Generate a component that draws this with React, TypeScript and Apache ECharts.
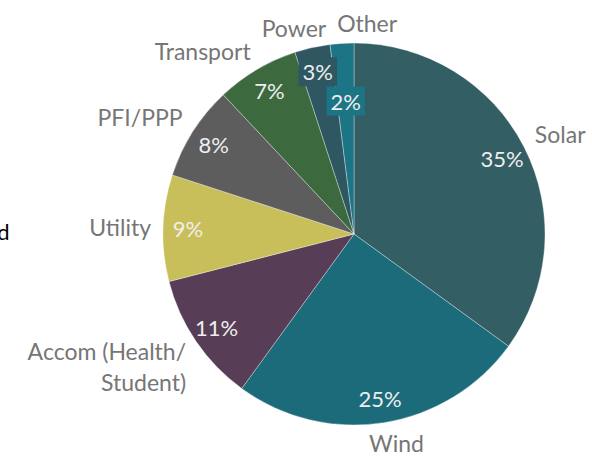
import React, { useEffect, useRef } from "react";
import * as echarts from "echarts";

const categories = [
  "Solar",
  "Wind",
  "Accom (Health/\nStudent)",
  "Utility",
  "PFI/PPP",
  "Transport",
  "Power",
  "Other",
];
const shares = [35, 25, 11, 9, 8, 7, 3, 2];
const sliceColors = [
  "#335e64",
  "#1b6b7b",
  "#573e56",
  "#c8bf5a",
  "#5d5d5d",
  "#3c6a3e",
  "#2e5761",
  "#1c7585",
];
const clippedText = "d";

const CX = 354;
const CY = 234;
const R = 191;
const FONT = "Lato, 'Open Sans', sans-serif";

function midAngles(values: number[]) {
  const total = values.reduce((a, b) => a + b, 0);
  let acc = 0;
  return values.map((v) => {
    const a = ((acc + v / 2) / total) * Math.PI * 2;
    acc += v;
    return a;
  });
}

const clamp = (v: number) => Math.max(-1, Math.min(1, v));

export default function App() {
  const ref = useRef<HTMLDivElement>(null);

  useEffect(() => {
    if (!ref.current) return;
    const chart = echarts.init(ref.current, undefined, { renderer: "svg" });
    const angles = midAngles(shares);
    const placed: Record<number, { x: number; y: number; w: number; h: number }> = {};
    const placedNames: Record<number, { x: number; y: number; w: number; h: number }> = {};

    const pctLayout = (p: any) => {
      const a = angles[p.dataIndex];
      const s = Math.sin(a);
      const c = Math.cos(a);
      const w = p.labelRect.width;
      const h = p.labelRect.height;
      const prev = placed[p.dataIndex - 1];
      let d = R * 0.87;
      let x = CX + d * s;
      let y = CY - d * c;
      for (let i = 0; i < 120; i++) {
        x = CX + d * s;
        y = CY - d * c;
        if (
          !prev ||
          !(Math.abs(x - prev.x) < (w + prev.w) / 2 && Math.abs(y - prev.y) < (h + prev.h) / 2)
        )
          break;
        d -= 1;
      }
      placed[p.dataIndex] = { x, y, w, h };
      return { x, y, align: "center", verticalAlign: "middle" };
    };

    const nameLayout = (p: any) => {
      const a = angles[p.dataIndex];
      const s = Math.sin(a);
      const c = Math.cos(a);
      const w = p.labelRect.width;
      const h = p.labelRect.height;
      const D = R + 12;
      let cx = CX + D * s + (w / 2) * clamp(2.5 * s);
      const cy = CY - D * c - (h / 2) * 0.6 * clamp(3 * c);
      const prev = placedNames[p.dataIndex - 1];
      if (
        prev &&
        Math.abs(cx - prev.x) < (w + prev.w) / 2 + 11 &&
        Math.abs(cy - prev.y) < (h + prev.h) / 2
      ) {
        cx = prev.x + (w + prev.w) / 2 + 11;
      }
      placedNames[p.dataIndex] = { x: cx, y: cy, w, h };
      let align = "center";
      let x = cx;
      if (s < -0.35) {
        align = "right";
        x = cx + w / 2;
      } else if (s > 0.35) {
        align = "left";
        x = cx - w / 2;
      }
      return { x, y: cy, align, verticalAlign: "middle" };
    };

    const mainData = shares.map((v, i) => ({
      name: categories[i],
      value: v,
      itemStyle: { color: sliceColors[i] },
      label:
        v < 5
          ? { backgroundColor: sliceColors[i], padding: [4, 4, 3, 4] }
          : undefined,
    }));
    const nameData = shares.map((v, i) => ({
      name: categories[i],
      value: v,
      label: categories[i].includes("\n") ? { lineHeight: 31 } : undefined,
    }));

    chart.setOption({
      animation: false,
      backgroundColor: "#ffffff",
      graphic: [
        {
          type: "text",
          x: 9.5,
          y: 231,
          style: {
            text: clippedText,
            fill: "#000000",
            font: `22px ${FONT}`,
            textAlign: "right",
            textVerticalAlign: "middle",
          },
        },
      ],
      series: [
        {
          type: "pie",
          center: [CX, CY],
          radius: [0, R],
          startAngle: 90,
          clockwise: true,
          silent: true,
          data: mainData,
          itemStyle: { borderColor: "rgba(255,255,255,0.55)", borderWidth: 0.6 },
          label: {
            show: true,
            position: "inside",
            formatter: "{c}%",
            color: "#eeeeee",
            fontFamily: FONT,
            fontSize: 22,
          },
          labelLine: { show: false },
          labelLayout: pctLayout,
        },
        {
          type: "pie",
          center: [CX, CY],
          radius: [0, R],
          startAngle: 90,
          clockwise: true,
          silent: true,
          data: nameData,
          itemStyle: { color: "rgba(0,0,0,0)", borderWidth: 0 },
          label: {
            show: true,
            position: "inside",
            formatter: "{b}",
            color: "#767676",
            fontFamily: FONT,
            fontSize: 23,
            lineHeight: 27,
          },
          labelLine: { show: false },
          labelLayout: nameLayout,
        },
      ],
    });
    return () => chart.dispose();
  }, []);

  return (
    <div
      ref={ref}
      style={{ position: "fixed", left: 0, top: 0, width: 592, height: 456 }}
    />
  );
}
